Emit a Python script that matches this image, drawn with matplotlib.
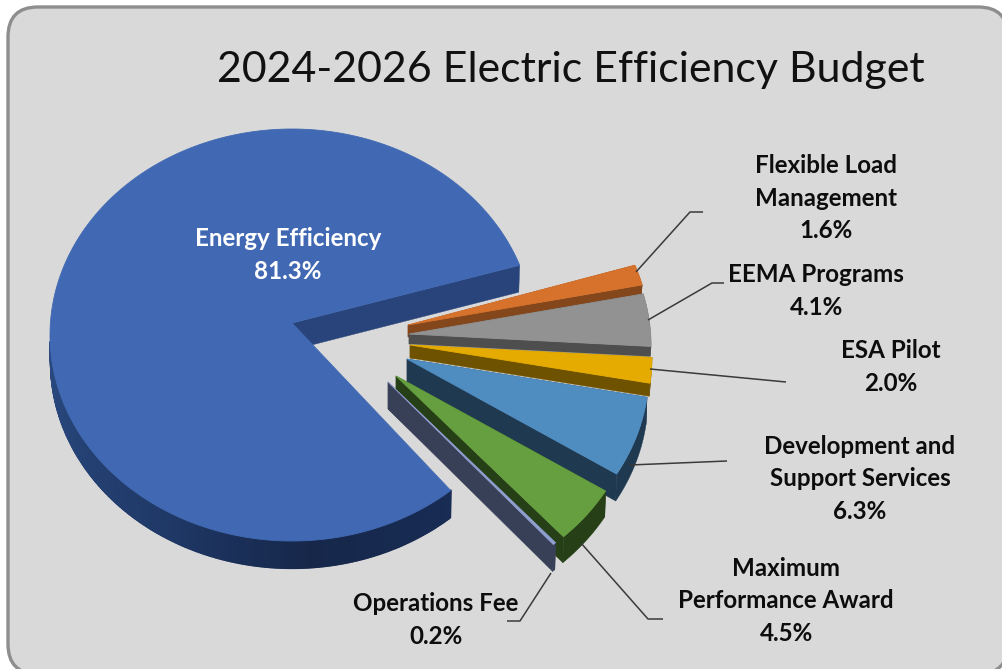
import numpy as np
import matplotlib
matplotlib.use("Agg")
import matplotlib.pyplot as plt
from matplotlib.patches import FancyBboxPatch, Polygon
from matplotlib.collections import PolyCollection
from matplotlib.colors import LinearSegmentedColormap

title = "2024-2026 Electric Efficiency Budget"
categories = ["Energy Efficiency", "Flexible Load\nManagement", "EEMA Programs", "ESA Pilot",
              "Development and\nSupport Services", "Maximum\nPerformance Award", "Operations Fee"]
shares = [81.3, 1.6, 4.1, 2.0, 6.3, 4.5, 0.2]

top_colors = ["#4169B3", "#D6722C", "#929292", "#E5AB00", "#4F8CC0", "#659F3F", "#8FA0CF"]
arc_colors = ["#17294D", "#84461B", "#555555", "#6E5200", "#1F3950", "#263F17", "#384058"]
edge_colors = ["#29447A", "#84461B", "#4E4E4E", "#6E5200", "#1F3950", "#263F17", "#384058"]

# layout, in pixels of the reference
W, H = 1002, 669
CX, CY, RX, RY = 292, 335, 242, 206
APEX_LIFT = 12
START = 20.4
MAIN_START = 19.8
MAIN_TRIM = 1.5
depths = [27, 12, 10, 13, 27, 26, 27]
explode = [(0, 0), (116, 2), (117, 11), (118, 22), (115, 36), (104, 53), (96, 59)]
label_pos = [(288, 254, "white"), (826, 197, "#0d0d0d"), (816, 290, "#0d0d0d"), (891, 366, "#0d0d0d"),
             (860, 478, "#0d0d0d"), (786, 600, "#0d0d0d"), (436, 619, "#0d0d0d")]
leaders = [None,
           [(636, 272), (690, 212), (703, 212)],
           [(648, 320), (712, 283), (724, 283)],
           [(650, 369), (786, 382)],
           [(630, 465), (727, 461)],
           [(581, 543), (648, 619), (663, 619)],
           [(551, 573), (520, 621), (507, 621)]]

plt.rcParams["font.family"] = ["Lato", "DejaVu Sans"]
fig = plt.figure(figsize=(W / 100, H / 100), dpi=100, facecolor="white")
ax = fig.add_axes([0, 0, 1, 1])
ax.set_xlim(0, W)
ax.set_ylim(H, 0)
ax.axis("off")

ax.add_patch(FancyBboxPatch((8, 7), 1000, 667, boxstyle="round,pad=0,rounding_size=30",
                            fc="#D9D9D9", ec="#8E8E8E", lw=2.4))

rim_shade = LinearSegmentedColormap.from_list(
    "rim", [(0.0, "#2A4A80"), (0.45, "#1F3866"), (0.72, "#16274A"), (1.0, "#182C54")])


def arc(theta0, theta1, dx, dy, depth=0.0, n=240):
    t = np.radians(np.linspace(theta0, theta1, n))
    shrink = 1 - 0.004 * (depth > 0)
    x = CX + dx + RX * shrink * np.cos(t)
    y = CY + dy + depth - RY * np.sin(t)
    return np.column_stack([x, y])


def draw_slice(theta0, theta1, offset, depth, top, side, radial, shaded=False):
    dx, dy = offset
    apex = np.array([CX + dx, CY + dy - APEX_LIFT])
    low_apex = apex + [0, depth]
    upper = arc(theta0, theta1, dx, dy)
    lower = arc(theta0, theta1, dx, dy, depth)
    # rim
    if shaded:
        # only the front of the big slice's rim can be seen
        near0 = 182.0
        upper_f = arc(near0, theta1, dx, dy)
        lower_f = arc(near0, theta1, dx, dy, depth)
        quads = [[upper_f[k], upper_f[k + 1], lower_f[k + 1], lower_f[k]] for k in range(len(upper_f) - 1)]
        frac = np.linspace(0, 1, len(quads))
        colors = rim_shade(frac)
        ax.add_collection(PolyCollection(quads, facecolors=colors, edgecolors=colors, linewidths=1.6))
    else:
        ax.add_patch(Polygon(np.vstack([upper, lower[::-1]]), fc=side, ec=side, lw=0.3))
    # radial walls (the far wall of the big slice faces away from the viewer)
    ax.add_patch(Polygon([apex, upper[0], lower[0], low_apex], fc=radial, ec=radial, lw=0.3))
    if not shaded:
        ax.add_patch(Polygon([apex, upper[-1], lower[-1], low_apex], fc=radial, ec=radial, lw=0.3))
    # top face
    ax.add_patch(Polygon(np.vstack([apex, upper]), fc=top, ec=top, lw=0.6))


angles = START - np.cumsum([0] + [s * 3.6 for s in shares[1:]])

draw_slice(MAIN_START, MAIN_START + shares[0] * 3.6 - MAIN_TRIM, explode[0], depths[0],
           top_colors[0], arc_colors[0], edge_colors[0], shaded=True)

for i in range(1, len(shares)):
    draw_slice(angles[i - 1], angles[i], explode[i], depths[i], top_colors[i], arc_colors[i], edge_colors[i])

for pts in leaders:
    if pts:
        xs, ys = zip(*pts)
        ax.plot(xs, ys, color="#3A3A3A", lw=1.1, solid_capstyle="butt")

ax.text(571, 70, title, ha="center", va="center", fontsize=30.9, color="#111111")

for name, share, (x, y, c) in zip(categories, shares, label_pos):
    ax.text(x, y + 1, f"{name}\n{share:.1f}%", ha="center", va="center", fontsize=17.4,
            fontweight="bold", color=c, linespacing=1.51)

fig.savefig("out.png", dpi=100, facecolor="white")
